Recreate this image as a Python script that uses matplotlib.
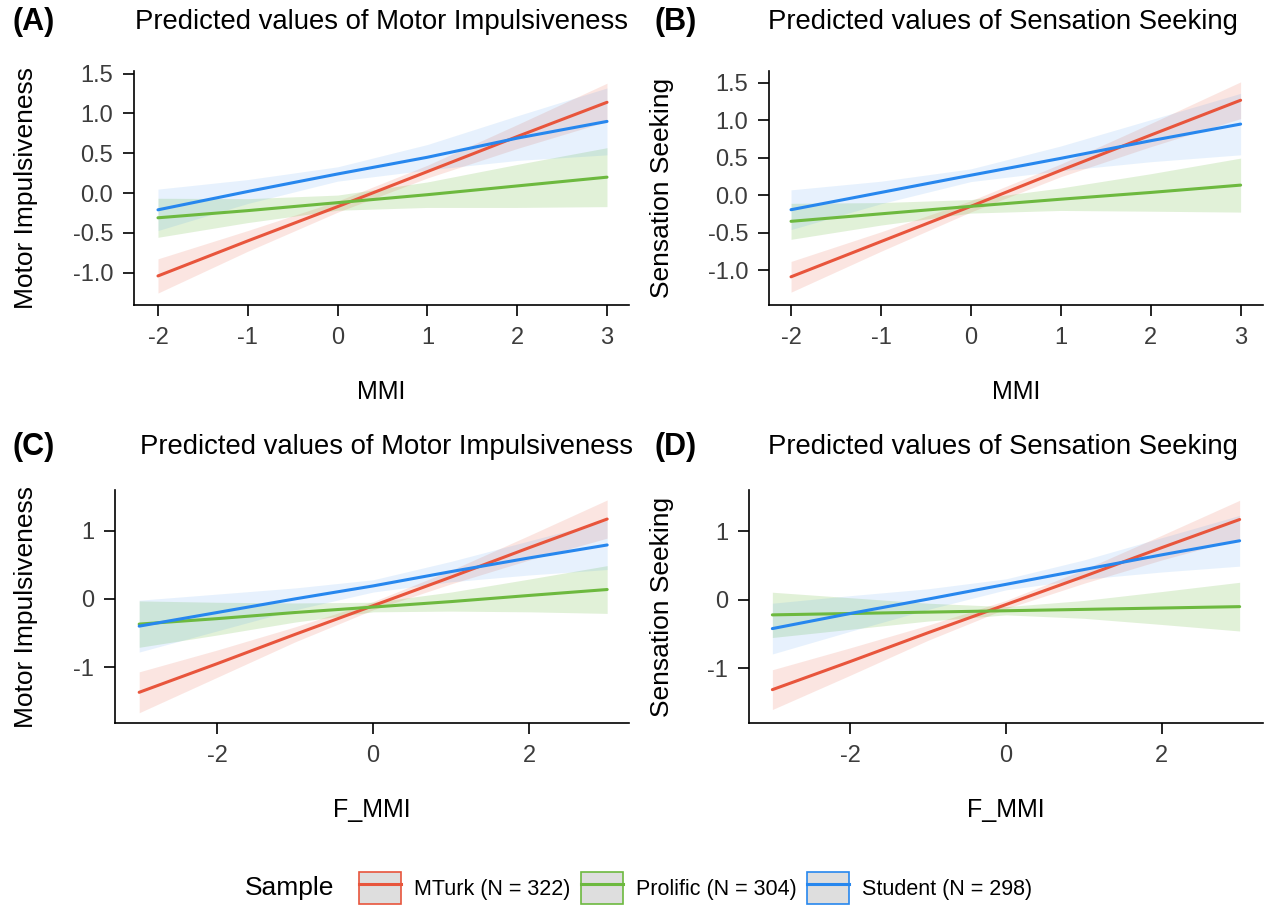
import matplotlib
matplotlib.use("Agg")
import matplotlib.pyplot as plt
from matplotlib.patches import Patch
from matplotlib.lines import Line2D
from matplotlib.legend_handler import HandlerTuple
import numpy as np

plt.rcParams['font.family'] = ['Liberation Sans', 'DejaVu Sans']
plt.rcParams['axes.unicode_minus'] = False

# x grids
mmi_x = [-2, -1, 0, 1, 2, 3]
fmmi_x = [-3, -2, -1, 0, 1, 2, 3]

# (A) Motor Impulsiveness ~ MMI : fitted value and CI half width
a_mturk = [-1.04, -0.60, -0.17, 0.27, 0.71, 1.14]
a_mturk_ci = [0.215, 0.13, 0.07, 0.08, 0.15, 0.24]
a_prolific = [-0.31, -0.22, -0.12, -0.02, 0.09, 0.20]
a_prolific_ci = [0.245, 0.15, 0.095, 0.16, 0.27, 0.37]
a_student = [-0.21, 0.02, 0.24, 0.45, 0.69, 0.90]
a_student_ci = [0.26, 0.15, 0.09, 0.16, 0.28, 0.42]

# (B) Sensation Seeking ~ MMI
b_mturk = [-1.09, -0.62, -0.15, 0.33, 0.80, 1.265]
b_mturk_ci = [0.205, 0.13, 0.075, 0.085, 0.155, 0.245]
b_prolific = [-0.35, -0.25, -0.15, -0.055, 0.035, 0.133]
b_prolific_ci = [0.24, 0.15, 0.09, 0.15, 0.25, 0.36]
b_student = [-0.195, 0.035, 0.265, 0.49, 0.725, 0.947]
b_student_ci = [0.265, 0.15, 0.085, 0.165, 0.28, 0.41]

# (C) Motor Impulsiveness ~ F_MMI
c_mturk = [-1.37, -0.95, -0.52, -0.10, 0.32, 0.75, 1.17]
c_mturk_ci = [0.30, 0.20, 0.11, 0.06, 0.10, 0.18, 0.28]
c_prolific = [-0.37, -0.29, -0.20, -0.12, -0.04, 0.05, 0.137]
c_prolific_ci = [0.34, 0.24, 0.14, 0.07, 0.14, 0.24, 0.35]
c_student = [-0.40, -0.20, 0.00, 0.19, 0.40, 0.60, 0.79]
c_student_ci = [0.38, 0.27, 0.16, 0.09, 0.15, 0.25, 0.36]

# (D) Sensation Seeking ~ F_MMI
d_mturk = [-1.31, -0.90, -0.48, -0.07, 0.34, 0.76, 1.17]
d_mturk_ci = [0.29, 0.20, 0.11, 0.06, 0.10, 0.18, 0.28]
d_prolific = [-0.22, -0.20, -0.18, -0.16, -0.14, -0.12, -0.10]
d_prolific_ci = [0.33, 0.23, 0.13, 0.06, 0.13, 0.24, 0.355]
d_student = [-0.42, -0.20, 0.01, 0.225, 0.44, 0.655, 0.86]
d_student_ci = [0.37, 0.26, 0.15, 0.08, 0.14, 0.25, 0.37]

groups = ['MTurk (N = 322)', 'Prolific (N = 304)', 'Student (N = 298)']
colors = ['#E8553C', '#6DB93F', '#2787EE']
band_alpha = [0.15, 0.2, 0.11]

panels = [
    dict(tag='(A)', title='Predicted values of Motor Impulsiveness', ylabel='Motor Impulsiveness',
         xlabel='MMI', x=mmi_x,
         fits=[a_mturk, a_prolific, a_student], cis=[a_mturk_ci, a_prolific_ci, a_student_ci],
         pos=[134, 71, 629, 305], xlim=(-2.267, 3.245), ylim=(-1.405, 1.533),
         yticks=[-1.0, -0.5, 0.0, 0.5, 1.0, 1.5], xticks=[-2, -1, 0, 1, 2, 3], fmt='%.1f',
         tag_x=12, title_x=135, text_y=22, ylab_x=26),
    dict(tag='(B)', title='Predicted values of Sensation Seeking', ylabel='Sensation Seeking',
         xlabel='MMI', x=mmi_x,
         fits=[b_mturk, b_prolific, b_student], cis=[b_mturk_ci, b_prolific_ci, b_student_ci],
         pos=[769, 71, 1263, 305], xlim=(-2.245, 3.249), ylim=(-1.466, 1.655),
         yticks=[-1.0, -0.5, 0.0, 0.5, 1.0, 1.5], xticks=[-2, -1, 0, 1, 2, 3], fmt='%.1f',
         tag_x=655, title_x=768, text_y=22, ylab_x=662),
    dict(tag='(C)', title='Predicted values of Motor Impulsiveness', ylabel='Motor Impulsiveness',
         xlabel='F_MMI', x=fmmi_x,
         fits=[c_mturk, c_prolific, c_student], cis=[c_mturk_ci, c_prolific_ci, c_student_ci],
         pos=[115, 490, 629, 723], xlim=(-3.31, 3.28), ylim=(-1.82, 1.596),
         yticks=[-1, 0, 1], xticks=[-2, 0, 2], fmt='%d',
         tag_x=12, title_x=140, text_y=447, ylab_x=26),
    dict(tag='(D)', title='Predicted values of Sensation Seeking', ylabel='Sensation Seeking',
         xlabel='F_MMI', x=fmmi_x,
         fits=[d_mturk, d_prolific, d_student], cis=[d_mturk_ci, d_prolific_ci, d_student_ci],
         pos=[749, 490, 1263, 723], xlim=(-3.30, 3.30), ylim=(-1.796, 1.60),
         yticks=[-1, 0, 1], xticks=[-2, 0, 2], fmt='%d',
         tag_x=655, title_x=768, text_y=447, ylab_x=662),
]

W, H = 1265, 913
fig = plt.figure(figsize=(W / 100, H / 100), dpi=100)

for p in panels:
    l, t, r, b = p['pos']
    ax = fig.add_axes([l / W, 1 - b / H, (r - l) / W, (b - t) / H])
    x = np.array(p['x'])
    for fit, ci, c, a in zip(p['fits'], p['cis'], colors, band_alpha):
        fit, ci = np.array(fit), np.array(ci)
        ax.fill_between(x, fit - ci, fit + ci, color=c, alpha=a, lw=0)
    for fit, c in zip(p['fits'], colors):
        ax.plot(x, fit, color=c, lw=2.2, solid_capstyle='round')
    ax.set_xlim(*p['xlim'])
    ax.set_ylim(*p['ylim'])
    ax.set_xticks(p['xticks'])
    ax.set_yticks(p['yticks'])
    ax.set_yticklabels([p['fmt'] % v for v in p['yticks']])
    for s in ['top', 'right']:
        ax.spines[s].set_visible(False)
    for s in ['left', 'bottom']:
        ax.spines[s].set_linewidth(1.2)
    ax.tick_params(axis='both', length=8, width=1.2, labelsize=17, labelcolor='#3c3c3c')
    ax.tick_params(axis='x', pad=8)
    ax.tick_params(axis='y', pad=7)
    ax.set_xlabel(p['xlabel'], fontsize=18)
    ax.xaxis.set_label_coords(0.5, -(392 - 305) / (b - t))
    ax.xaxis.label.set_va('center')
    ax.set_ylabel(p['ylabel'], fontsize=19)
    ax.yaxis.set_label_coords((p['ylab_x'] - l) / (r - l), 0.5)
    ax.yaxis.label.set_va('center')
    fig.text(p['tag_x'] / W, 1 - p['text_y'] / H, p['tag'], fontsize=22, fontweight='bold',
             ha='left', va='center')
    fig.text(p['title_x'] / W, 1 - p['text_y'] / H, p['title'], fontsize=19.8,
             ha='left', va='center')

# legend
handles = [(Patch(facecolor='#DEDEDE', edgecolor=c, lw=1.2), Line2D([], [], color=c, lw=2.2))
           for c in colors]
fig.text(245 / W, 1 - 888 / H, 'Sample', fontsize=19, ha='left', va='center')
fig.legend(handles, groups, handler_map={tuple: HandlerTuple(ndivide=1)},
           loc='center left', bbox_to_anchor=(350 / W, 1 - 888 / H), ncol=3, frameon=False,
           fontsize=15.5, handlelength=1.95, handleheight=1.85, handletextpad=0.6,
           columnspacing=0.5, borderaxespad=0)

fig.savefig('out.png', dpi=100)
